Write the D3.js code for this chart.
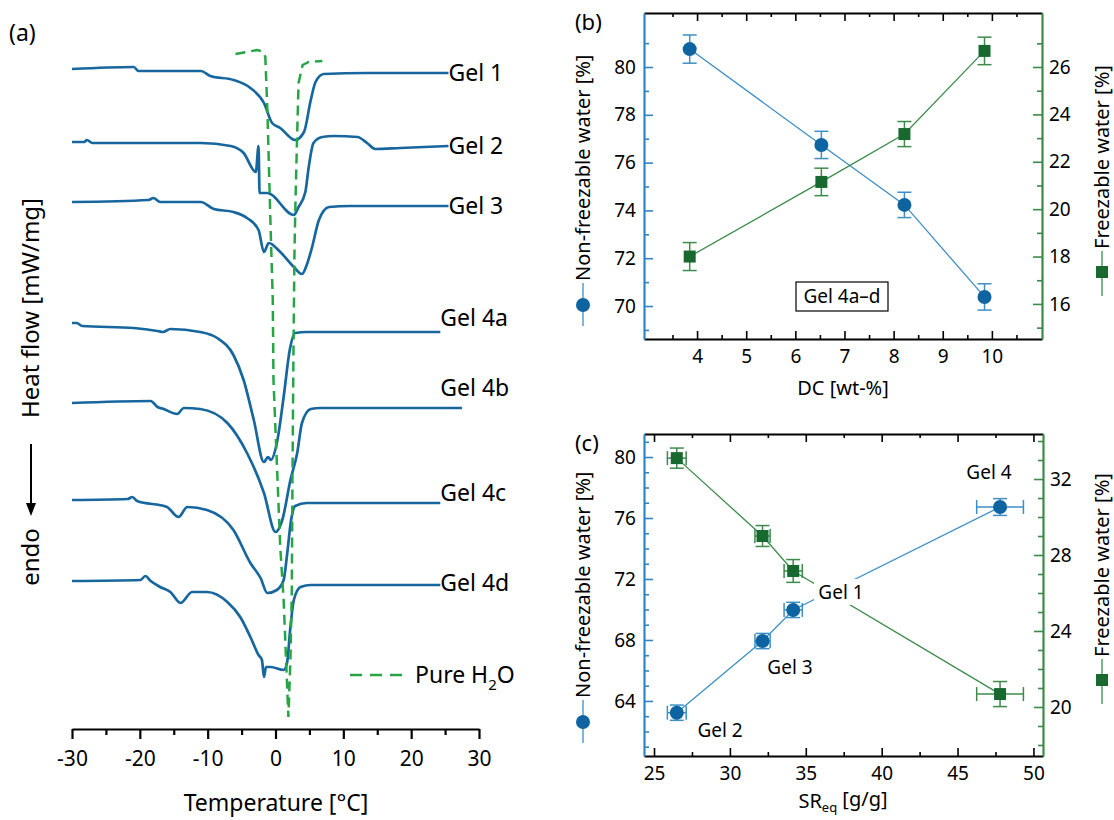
<!DOCTYPE html>
<html>
<head>
<meta charset="utf-8">
<script src="https://cdn.jsdelivr.net/npm/d3@7"></script>
<style>
  body { margin: 0; background: #fff; }
  svg { display: block; font-family: "Noto Sans", sans-serif; }
</style>
</head>
<body>
<div id="chart"></div>
<script>
// ---- panel (a): DSC traces, [temperature °C, heat flow a.u.] ----
const gel1 = [[-30,-2.9],[-20.9,-2.7],[-20.2,-3.1],[-11,-3.1],[-9.6,-3.6],[-6.2,-4.0],[-3.7,-4.8],[-1.7,-6.3],[-0.5,-8.3],[0.7,-8.8],[2.9,-10.0],[4.2,-9.2],[5.2,-6.0],[5.9,-4.2],[7.1,-3.4],[13.5,-3.3],[25.5,-3.3]];
const gel2 = [[-30,-10.2],[-28.2,-10.2],[-27.8,-10.0],[-27.0,-10.3],[-11,-10.3],[-6.6,-10.6],[-4.7,-11.3],[-2.9,-13.2],[-2.5,-10.6],[-2.35,-15.3],[-1.2,-15.3],[2.7,-17.5],[3.4,-16.7],[4.4,-15.2],[4.9,-12.7],[5.6,-10.3],[6.9,-9.7],[8.6,-9.6],[12.1,-9.7],[13.5,-10.3],[14.7,-10.9],[18.4,-10.8],[25.5,-10.6]];
const gel3 = [[-30,-16.2],[-18.7,-16.0],[-18,-15.8],[-17,-16.2],[-11,-16.2],[-9.1,-16.9],[-6.2,-17.2],[-4.2,-17.8],[-2.5,-19.0],[-1.7,-21.2],[-1.0,-20.3],[0.7,-21.2],[2.7,-22.7],[3.9,-23.4],[4.6,-22.5],[5.4,-20.7],[6.4,-18.0],[7.9,-16.7],[11,-16.6],[25.5,-16.6]];
const gel4a = [[-30,-28.3],[-29.3,-28.3],[-28.5,-28.6],[-20.9,-28.8],[-17.4,-29.1],[-16.6,-29.2],[-15.5,-28.9],[-11.1,-29.2],[-8.6,-29.8],[-6.2,-31.5],[-4.7,-34.0],[-3.2,-38.0],[-1.7,-42.2],[-1.1,-41.7],[-0.7,-42.0],[0.2,-40.3],[1.2,-35.7],[2.1,-31.0],[2.9,-29.3],[4.6,-29.2],[24.3,-29.2]];
const gel4b = [[-30,-36.3],[-18.4,-36.1],[-17.4,-36.7],[-16.5,-36.9],[-14.5,-37.4],[-13.5,-36.8],[-11.1,-36.9],[-7.1,-38.3],[-4.2,-41.3],[-1.7,-45.3],[0,-49.2],[1.0,-48.0],[2.2,-44.0],[3.2,-41.3],[3.9,-38.3],[5.2,-36.9],[6.6,-36.8],[27.5,-36.8]];
const gel4c = [[-30,-46.0],[-21.8,-45.9],[-21.1,-45.7],[-20.4,-46.1],[-16,-46.7],[-14.3,-47.7],[-13,-46.7],[-10.1,-47.0],[-6.2,-49.0],[-3.7,-52.3],[-2.2,-53.8],[-1.2,-55.3],[0.2,-55.0],[1.2,-54.0],[1.7,-51.5],[2.3,-48.0],[2.9,-46.6],[4.6,-46.3],[24.3,-46.3]];
const gel4d = [[-30,-54.1],[-19.9,-54.0],[-19.2,-53.6],[-18.4,-54.1],[-17,-54.7],[-15.5,-55.2],[-14,-56.3],[-12.3,-55.2],[-10.1,-55.2],[-7.1,-56.2],[-5.2,-57.7],[-3.7,-59.7],[-2.5,-61.5],[-2.0,-62.0],[-1.7,-63.7],[-1.4,-62.7],[-0.7,-62.7],[1.2,-63.0],[1.7,-62.3],[2.2,-58.7],[2.7,-56.0],[3.7,-54.7],[5.2,-54.5],[24.3,-54.5]];
const pureWater = [[-5.9,-1.4],[-2.65,-1.0],[-1.8,-1.2],[-1.5,-1.7],[-1.2,-7.0],[-0.7,-19.3],[-0.4,-26.0],[-0.3,-34.0],[0.3,-44.0],[0.7,-50.7],[1.2,-56.0],[1.5,-61.0],[1.9,-67.7],[2.2,-62.0],[2.4,-55.3],[2.5,-44.0],[2.65,-31.0],[2.8,-21.0],[2.95,-16.0],[3.2,-9.3],[3.4,-4.3],[4.0,-2.5],[4.9,-2.2],[6.9,-2.1]];
const gelCurves = [gel1, gel2, gel3, gel4a, gel4b, gel4c, gel4d];
const gelNamesA = ["Gel 1", "Gel 2", "Gel 3", "Gel 4a", "Gel 4b", "Gel 4c", "Gel 4d"];
const tempTicks = [-30, -20, -10, 0, 10, 20, 30];

// ---- panel (b): Gel 4a-d vs DC ----
const dcValues = [3.85, 6.53, 8.22, 9.85];
const nonFreezB = [80.75, 76.74, 74.23, 70.38];
const nonFreezBErr = [0.59, 0.57, 0.53, 0.55];
const freezB = [18.0, 21.15, 23.17, 26.68];
const freezBErr = [0.59, 0.58, 0.53, 0.58];

// ---- panel (c): Gel 1-4 vs SReq ----
const gelNamesC = ["Gel 2", "Gel 3", "Gel 1", "Gel 4"];
const srValues = [26.5, 32.15, 34.17, 47.8];
const srErr = [0.62, 0.5, 0.6, 1.54];
const nonFreezC = [63.23, 67.93, 69.97, 76.72];
const nonFreezCErr = [0.5, 0.5, 0.5, 0.55];
const freezC = [33.1, 29.0, 27.16, 20.68];
const freezCErr = [0.53, 0.55, 0.6, 0.66];

const W = 1114, H = 820;
const blueLine = "#17679e", blueMark = "#0e64a0", blueThin = "#3d8fc6", blueAxis = "#2f86c5";
const greenMark = "#17692f", greenThin = "#3c8b4b", greenAxis = "#3a8a48", greenDash = "#27a546";
const plain = d => String(d); // hyphen minus like the original

const svg = d3.select('#chart').append('svg')
  .attr('width', W).attr('height', H);

// ================= panel (a) =================
const xA = d3.scaleLinear().domain([-30, 30]).range([72, 479]);
const yA = d3.scaleLinear().domain([0, -68]).range([40, 720]);

const lineA = d3.line().x(d => xA(d[0])).y(d => yA(d[1])).curve(d3.curveMonotoneX);

const gA = svg.append('g');
gA.selectAll('path.gel')
  .data(gelCurves)
  .enter().append('path')
  .attr('class', 'gel')
  .attr('d', lineA)
  .attr('fill', 'none')
  .attr('stroke', blueLine)
  .attr('stroke-width', 2.7)
  .attr('stroke-linejoin', 'round');

gA.append('path')
  .datum(pureWater)
  .attr('d', d3.line().x(d => xA(d[0])).y(d => yA(d[1])))
  .attr('fill', 'none')
  .attr('stroke', greenDash)
  .attr('stroke-width', 2.5)
  .attr('stroke-dasharray', '10,6');

// curve labels: Gel 1-3 inline, Gel 4x sit above the line end
const labelT = [25.5, 25.5, 25.5, 24.3, 24.3, 24.3, 24.3];
const labelDy = [0, 0, 0, -14, -20, -10, -2];
gelCurves.forEach((c, i) => {
  const last = c[c.length - 1];
  gA.append('text')
    .attr('x', xA(labelT[i]))
    .attr('y', yA(last[1]) + labelDy[i])
    .attr('dy', '0.35em')
    .attr('font-size', 23)
    .text(gelNamesA[i]);
});

// legend for pure water
gA.append('line')
  .attr('x1', 350).attr('x2', 402).attr('y1', 675).attr('y2', 675)
  .attr('stroke', greenDash).attr('stroke-width', 2.5).attr('stroke-dasharray', '12,8');
const h2o = gA.append('text').attr('x', 415).attr('y', 675).attr('dy', '0.35em').attr('font-size', 23);
h2o.append('tspan').text('Pure H');
h2o.append('tspan').attr('font-size', 15).attr('dy', '0.45em').text('2');
h2o.append('tspan').attr('dy', '-0.3em').text('O');

// temperature axis
const axA = gA.append('g').attr('transform', 'translate(0,729)');
axA.call(d3.axisBottom(xA).tickValues(tempTicks).tickFormat(plain).tickSize(10).tickSizeOuter(0).tickPadding(12));
axA.append('g').call(d3.axisBottom(xA).tickValues(d3.range(-25, 30, 10)).tickSize(6).tickFormat(''))
  .select('.domain').remove();
axA.selectAll('.domain').attr('stroke-width', 2.2);
axA.selectAll('.tick line').attr('stroke-width', 2.2);
axA.selectAll('.tick text').attr('font-size', 21).attr('fill', '#000')
  .attr('font-family', '"Noto Sans", sans-serif');

gA.append('text').attr('x', 276).attr('y', 803).attr('text-anchor', 'middle')
  .attr('dy', '0.35em').attr('font-size', 23).text('Temperature [°C]');

gA.append('text').attr('transform', 'translate(31,308) rotate(-90)')
  .attr('text-anchor', 'middle').attr('dy', '0.35em').attr('font-size', 24)
  .text('Heat flow [mW/mg]');
gA.append('line').attr('x1', 31).attr('x2', 31).attr('y1', 444).attr('y2', 506)
  .attr('stroke', '#000').attr('stroke-width', 2);
gA.append('path').attr('d', 'M26,503 L36,503 L31,516 Z').attr('fill', '#000');
gA.append('text').attr('transform', 'translate(31,557) rotate(-90)')
  .attr('text-anchor', 'middle').attr('dy', '0.35em').attr('font-size', 24).text('endo');

svg.append('text').attr('x', 9).attr('y', 33).attr('dy', '0.35em').attr('font-size', 23).text('(a)');

// ================= panels (b) and (c) =================
function dualPanel(cfg) {
  const g = svg.append('g');
  const { xS, yL, yR, top, bottom, left, right } = cfg;

  // connecting lines
  const pathL = d3.line().x((d, i) => xS(cfg.xs[i])).y(d => yL(d));
  const pathR = d3.line().x((d, i) => xS(cfg.xs[i])).y(d => yR(d));
  g.append('path').datum(cfg.blue).attr('d', pathL).attr('fill', 'none')
    .attr('stroke', blueThin).attr('stroke-width', 1.3);
  g.append('path').datum(cfg.green).attr('d', pathR).attr('fill', 'none')
    .attr('stroke', greenThin).attr('stroke-width', 1.3);

  // optional text labels with white background drawn over the lines
  (cfg.labels || []).forEach(l => {
    if (l.box) {
      g.append('rect').attr('x', l.x - 27).attr('y', l.y - 13).attr('width', 54).attr('height', 26)
        .attr('fill', '#fff');
    }
    g.append('text').attr('x', l.x).attr('y', l.y).attr('dy', '0.35em')
      .attr('text-anchor', 'middle').attr('font-size', 19).text(l.text);
  });

  // error bars
  function errors(ys, yErr, yS, color) {
    cfg.xs.forEach((x, i) => {
      const cx = xS(x), cy = yS(ys[i]);
      const ya = yS(ys[i] - yErr[i]), yb = yS(ys[i] + yErr[i]);
      g.append('line').attr('x1', cx).attr('x2', cx).attr('y1', ya).attr('y2', yb)
        .attr('stroke', color).attr('stroke-width', 1.5);
      [ya, yb].forEach(yy => g.append('line').attr('x1', cx - 7).attr('x2', cx + 7)
        .attr('y1', yy).attr('y2', yy).attr('stroke', color).attr('stroke-width', 1.5));
      if (cfg.xErr) {
        const xa = xS(x - cfg.xErr[i]), xb = xS(x + cfg.xErr[i]);
        g.append('line').attr('x1', xa).attr('x2', xb).attr('y1', cy).attr('y2', cy)
          .attr('stroke', color).attr('stroke-width', 1.5);
        [xa, xb].forEach(xx => g.append('line').attr('x1', xx).attr('x2', xx)
          .attr('y1', cy - 7).attr('y2', cy + 7).attr('stroke', color).attr('stroke-width', 1.5));
      }
    });
  }
  errors(cfg.blue, cfg.blueErr, yL, blueThin);
  errors(cfg.green, cfg.greenErr, yR, greenThin);

  // markers
  g.selectAll('circle.nf').data(cfg.blue).enter().append('circle')
    .attr('class', 'nf')
    .attr('cx', (d, i) => xS(cfg.xs[i])).attr('cy', d => yL(d)).attr('r', 7)
    .attr('fill', blueMark);
  g.selectAll('rect.fr').data(cfg.green).enter().append('rect')
    .attr('class', 'fr')
    .attr('x', (d, i) => xS(cfg.xs[i]) - 6).attr('y', d => yR(d) - 6)
    .attr('width', 12).attr('height', 12)
    .attr('fill', greenMark);

  // axes, ticks pointing inward
  function styleAxis(sel, color, width) {
    sel.select('.domain').attr('stroke', color).attr('stroke-width', width);
    sel.selectAll('.tick line').attr('stroke', color).attr('stroke-width', 1.6);
    sel.selectAll('.tick text').attr('font-size', 19).attr('fill', '#000')
      .attr('font-family', '"Noto Sans", sans-serif');
  }
  const bAx = g.append('g').attr('transform', `translate(0,${bottom})`)
    .call(d3.axisBottom(xS).tickValues(cfg.xMajor).tickFormat(plain).tickSize(-8).tickSizeOuter(0).tickPadding(cfg.xPad));
  styleAxis(bAx, '#000', 1.8);
  g.append('g').attr('transform', `translate(0,${bottom})`)
    .call(d3.axisBottom(xS).tickValues(cfg.xMinor).tickSize(-4).tickFormat(''))
    .call(s => s.select('.domain').remove())
    .call(s => s.selectAll('.tick line').attr('stroke-width', 1.6));
  const tAx = g.append('g').attr('transform', `translate(0,${top})`)
    .call(d3.axisTop(xS).tickValues(cfg.xMajor).tickSize(-8).tickSizeOuter(0).tickFormat(''));
  styleAxis(tAx, '#000', 1.8);
  g.append('g').attr('transform', `translate(0,${top})`)
    .call(d3.axisTop(xS).tickValues(cfg.xMinor).tickSize(-4).tickFormat(''))
    .call(s => s.select('.domain').remove())
    .call(s => s.selectAll('.tick line').attr('stroke-width', 1.6));

  const lAx = g.append('g').attr('transform', `translate(${left},0)`)
    .call(d3.axisLeft(yL).tickValues(cfg.yLMajor).tickFormat(plain).tickSize(-9).tickSizeOuter(0).tickPadding(8));
  styleAxis(lAx, blueAxis, 2.2);
  g.append('g').attr('transform', `translate(${left},0)`)
    .call(d3.axisLeft(yL).tickValues(cfg.yLMinor).tickSize(-5).tickFormat(''))
    .call(s => s.select('.domain').remove())
    .call(s => s.selectAll('.tick line').attr('stroke', blueAxis).attr('stroke-width', 1.6));

  const rAx = g.append('g').attr('transform', `translate(${right},0)`)
    .call(d3.axisRight(yR).tickValues(cfg.yRMajor).tickFormat(plain).tickSize(-9).tickSizeOuter(0).tickPadding(7));
  styleAxis(rAx, greenAxis, 2.2);
  g.append('g').attr('transform', `translate(${right},0)`)
    .call(d3.axisRight(yR).tickValues(cfg.yRMinor).tickSize(-5).tickFormat(''))
    .call(s => s.select('.domain').remove())
    .call(s => s.selectAll('.tick line').attr('stroke', greenAxis).attr('stroke-width', 1.6));

  // axis titles with legend symbols
  g.append('text').attr('transform', `translate(583,${cfg.lTextY}) rotate(-90)`)
    .attr('dy', '0.35em').attr('font-size', 20).text('Non-freezable water [%]');
  g.append('line').attr('x1', 583).attr('x2', 583).attr('y1', cfg.lTextY + 2).attr('y2', cfg.lTextY + 45)
    .attr('stroke', blueThin).attr('stroke-width', 1.3);
  g.append('circle').attr('cx', 583).attr('cy', cfg.lTextY + 24).attr('r', 7).attr('fill', blueMark);

  g.append('text').attr('transform', `translate(1102,${cfg.rTextY}) rotate(-90)`)
    .attr('dy', '0.35em').attr('font-size', 20).text('Freezable water [%]');
  g.append('line').attr('x1', 1102).attr('x2', 1102).attr('y1', cfg.rTextY + 2).attr('y2', cfg.rTextY + 47)
    .attr('stroke', greenThin).attr('stroke-width', 1.3);
  g.append('rect').attr('x', 1096).attr('y', cfg.rTextY + 17).attr('width', 12).attr('height', 12)
    .attr('fill', greenMark);

  return g;
}

// (b)
const xB = d3.scaleLinear().domain([2.92, 11.02]).range([644, 1042]);
const yBL = d3.scaleLinear().domain([68.62, 82.26]).range([339, 13]);
const yBR = d3.scaleLinear().domain([14.52, 28.28]).range([339, 13]);
const gB = dualPanel({
  xS: xB, yL: yBL, yR: yBR, top: 13, bottom: 339, left: 644, right: 1042,
  xs: dcValues, blue: nonFreezB, blueErr: nonFreezBErr, green: freezB, greenErr: freezBErr,
  xMajor: d3.range(4, 11), xMinor: d3.range(3.5, 11, 1), xPad: 11,
  yLMajor: [70, 72, 74, 76, 78, 80], yLMinor: [69, 71, 73, 75, 77, 79, 81],
  yRMajor: [16, 18, 20, 22, 24, 26], yRMinor: [15, 17, 19, 21, 23, 25, 27],
  lTextY: 281, rTextY: 249
});
gB.append('rect').attr('x', 796).attr('y', 282).attr('width', 92).attr('height', 29)
  .attr('fill', '#fff').attr('stroke', '#000').attr('stroke-width', 1.2);
gB.append('text').attr('x', 842).attr('y', 296.5).attr('dy', '0.35em').attr('text-anchor', 'middle')
  .attr('font-size', 19).text('Gel 4a–d');
gB.append('text').attr('x', 843).attr('y', 388).attr('dy', '0.35em').attr('text-anchor', 'middle')
  .attr('font-size', 20).text('DC [wt-%]');
svg.append('text').attr('x', 575).attr('y', 22).attr('dy', '0.35em').attr('font-size', 22).text('(b)');

// (c)
const xC = d3.scaleLinear().domain([24.34, 50.63]).range([644, 1043]);
const yCL = d3.scaleLinear().domain([60.39, 81.51]).range([756, 434]);
const yCR = d3.scaleLinear().domain([17.42, 34.37]).range([756, 434]);
const gC = dualPanel({
  xS: xC, yL: yCL, yR: yCR, top: 434, bottom: 756, left: 644, right: 1043,
  xs: srValues, blue: nonFreezC, blueErr: nonFreezCErr, green: freezC, greenErr: freezCErr,
  xErr: srErr,
  xMajor: d3.range(25, 51, 5), xMinor: d3.range(27.5, 50, 5), xPad: 11,
  yLMajor: [64, 68, 72, 76, 80], yLMinor: d3.range(61, 82).filter(v => v % 4 !== 0),
  yRMajor: [20, 24, 28, 32], yRMinor: d3.range(18, 35).filter(v => v % 4 !== 0),
  lTextY: 698, rTextY: 657,
  labels: [
    { text: gelNamesC[3], x: xC(47.07), y: yCL(79.0) },
    { text: gelNamesC[2], x: xC(37.32), y: yCL(71.15), box: true },
    { text: gelNamesC[1], x: xC(33.96), y: yCL(66.23) },
    { text: gelNamesC[0], x: xC(29.35), y: yCL(62.1) }
  ]
});
const srLab = gC.append('text').attr('x', 843).attr('y', 801).attr('dy', '0.35em')
  .attr('text-anchor', 'middle').attr('font-size', 20);
srLab.append('tspan').text('SR');
srLab.append('tspan').attr('font-size', 13).attr('dy', '0.3em').text('eq');
srLab.append('tspan').attr('dy', '-0.3em').text(' [g/g]');
svg.append('text').attr('x', 575).attr('y', 443).attr('dy', '0.35em').attr('font-size', 22).text('(c)');
</script>
</body>
</html>
